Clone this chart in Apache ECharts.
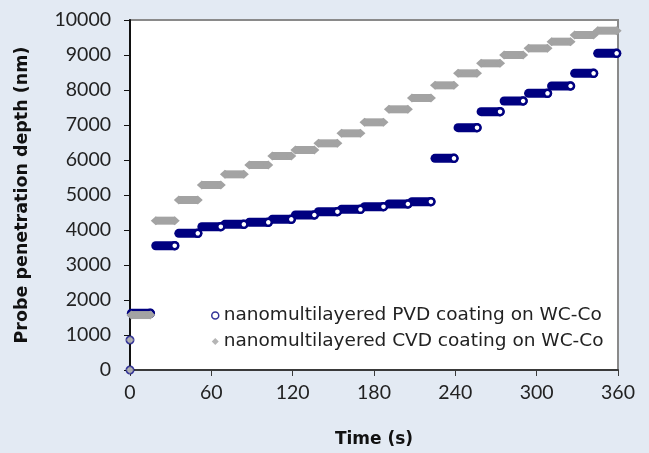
<!DOCTYPE html>
<html>
<head>
<meta charset="utf-8">
<script src="https://cdn.jsdelivr.net/npm/echarts@6/dist/echarts.min.js"></script>
<style>
html,body{margin:0;padding:0;background:#E3EAF3;}
#c{width:649px;height:453px;}
</style>
</head>
<body>
<div id="c"></div>
<script>
// ---- data ----
const seriesNames = ['nanomultilayered PVD coating on WC-Co', 'nanomultilayered CVD coating on WC-Co'];
// plateau segments: start / end time (s)
const segStart = [1, 19, 36, 53, 70, 88, 105, 122, 139, 156, 173, 191, 208, 225, 242, 259, 276, 294, 311, 328, 345];
const segEnd   = [15, 33, 50, 67, 84, 102, 119, 136, 153, 170, 187, 205, 222, 239, 256, 273, 290, 308, 325, 342, 359];
// penetration depth (nm) on each plateau
const pvdDepth = [1620, 3551, 3905, 4095, 4162, 4219, 4305, 4429, 4524, 4590, 4667, 4743, 4810, 6048, 6924, 7381, 7686, 7905, 8114, 8476, 9048];
const cvdDepth = [1570, 4267, 4857, 5286, 5590, 5857, 6114, 6286, 6476, 6762, 7076, 7448, 7771, 8133, 8476, 8762, 9000, 9190, 9381, 9571, 9695];
// loading points at t = 0
const initTime = [0, 0];
const pvdInit = [0, 857];
const cvdInit = [0, 857];

const NAVY = '#000080';
const GRAY = '#A3A3A3';
const FONT = 'Lato';
const FONT2 = 'DejaVu Sans';

const series = [];
// PVD
series.push({
  name: seriesNames[0], type: 'scatter', clip: false, z: 2,
  data: initTime.map((t, i) => [t, pvdInit[i]]),
  symbol: 'circle', symbolSize: 7,
  itemStyle: { color: '#fff', borderColor: NAVY, borderWidth: 2 }
});
segStart.forEach((s, i) => {
  series.push({
    name: seriesNames[0], type: 'line', clip: false, z: 2,
    data: [{ value: [s, pvdDepth[i]], symbol: 'none' }, [segEnd[i], pvdDepth[i]]],
    symbol: 'circle', symbolSize: 7, showSymbol: true,
    lineStyle: { color: NAVY, width: 9, cap: 'round' },
    itemStyle: { color: '#fff', borderColor: NAVY, borderWidth: 2.5 }
  });
});
// CVD
series.push({
  name: seriesNames[1], type: 'scatter', clip: false, z: 3,
  data: initTime.map((t, i) => [t, cvdInit[i]]),
  symbol: 'diamond', symbolSize: [8, 8],
  itemStyle: { color: GRAY }
});
segStart.forEach((s, i) => {
  series.push({
    name: seriesNames[1], type: 'line', clip: false, z: 3,
    data: [[s, cvdDepth[i]], [segEnd[i], cvdDepth[i]]],
    symbol: 'diamond', symbolSize: [10, 9], showSymbol: true,
    lineStyle: { color: GRAY, width: 8, cap: 'butt' },
    itemStyle: { color: GRAY }
  });
});

const chart = echarts.init(document.getElementById('c'), null, { renderer: 'canvas' });
chart.setOption({
  animation: false,
  backgroundColor: '#E3EAF3',
  grid: { left: 130, right: 31, top: 20, bottom: 83, show: true, backgroundColor: '#fff', borderColor: '#8A8A8A', borderWidth: 2 },
  legend: {
    orient: 'vertical', left: 211, top: 306, itemWidth: 7, itemHeight: 7, itemGap: 7, padding: 0,
    textStyle: { fontFamily: FONT2, fontSize: 18.5, color: '#222' },
    data: [
      { name: seriesNames[0], icon: 'circle', itemStyle: { color: '#fff', borderColor: NAVY, borderWidth: 1.5 } },
      { name: seriesNames[1], icon: 'diamond', itemStyle: { color: GRAY } }
    ]
  },
  xAxis: {
    type: 'value', min: 0, max: 360, interval: 60,
    name: 'Time (s)', nameLocation: 'middle', nameGap: 61,
    nameTextStyle: { fontFamily: FONT2, fontSize: 17, fontWeight: 'bold', color: '#111' },
    axisLine: { show: true, onZero: false, lineStyle: { color: '#3a3a3a', width: 2 } },
    axisTick: { show: true, length: 6, lineStyle: { color: '#3a3a3a', width: 1 } },
    axisLabel: { fontFamily: FONT, fontSize: 19.5, color: '#222', margin: 13 },
    splitLine: { show: false }
  },
  yAxis: {
    type: 'value', min: 0, max: 10000, interval: 1000,
    name: 'Probe penetration depth (nm)', nameLocation: 'middle', nameGap: 99,
    nameTextStyle: { fontFamily: FONT2, fontSize: 17.5, fontWeight: 'bold', color: '#111' },
    axisLine: { show: true, lineStyle: { color: '#111', width: 2 } },
    axisTick: { show: true, length: 6, lineStyle: { color: '#111', width: 1 } },
    axisLabel: { fontFamily: FONT, fontSize: 19.5, color: '#222', margin: 19, formatter: v => String(v) },
    splitLine: { show: false }
  },
  series: series
});
</script>
</body>
</html>
